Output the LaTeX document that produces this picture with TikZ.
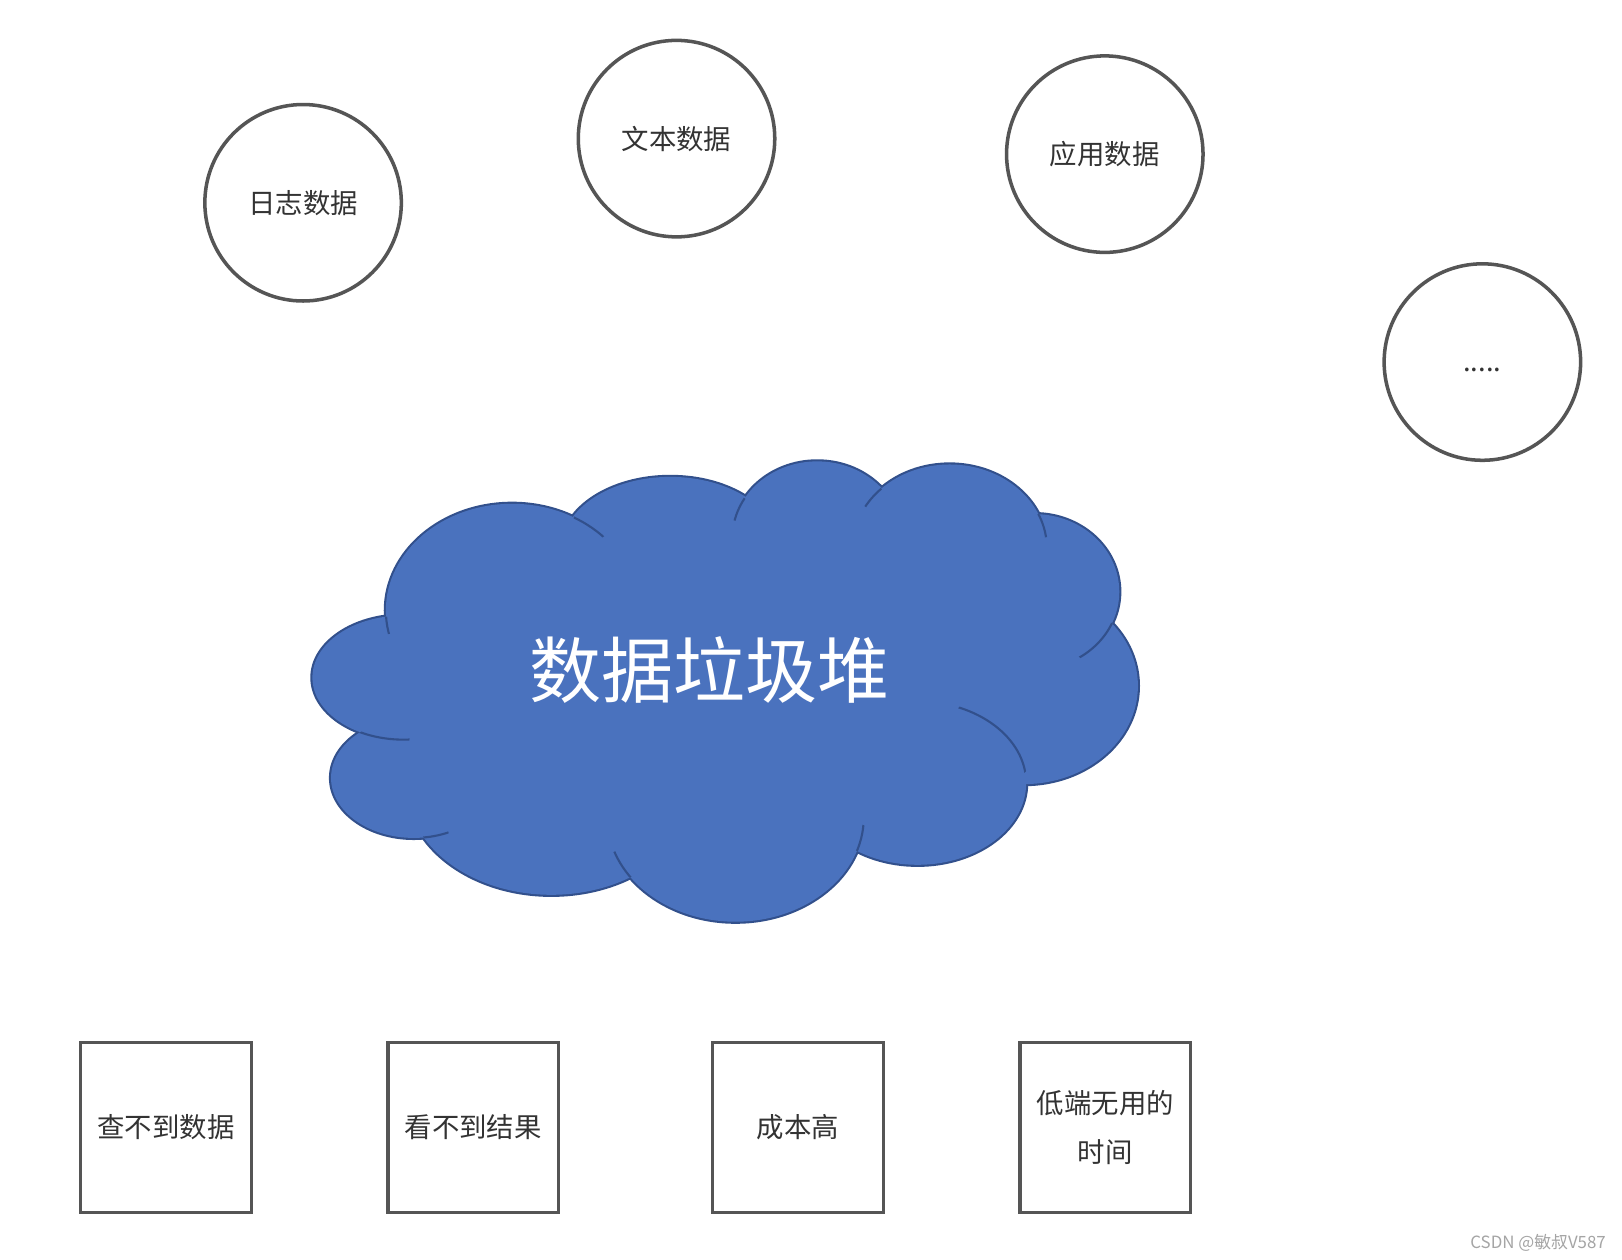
\documentclass[tikz,border=0pt]{standalone}
\usepackage{fontspec}
\newfontfamily\cjkfont{Noto Sans CJK SC}
\definecolor{cloudfill}{RGB}{74, 114, 190}
\definecolor{cloudline}{RGB}{50, 80, 140}
\definecolor{shapeline}{RGB}{85, 85, 85}
\definecolor{labelgray}{RGB}{51, 51, 51}
\definecolor{markgray}{RGB}{165, 165, 165}

\begin{document}
\begin{tikzpicture}[
	x=0.010344cm, y=-0.010344cm,
	font=\cjkfont,
	% Styles for the data sources, the cloud and the problem boxes
	source/.style={circle, draw=shapeline, line width=1pt, minimum size=1.965cm, inner sep=0pt, text=labelgray, font=\cjkfont\fontsize{7.8}{9.4}\selectfont},
	issue/.style={rectangle, draw=shapeline, line width=0.9pt, minimum size=1.707cm, inner sep=0pt, align=center, text=labelgray, font=\cjkfont\fontsize{7.8}{13.8}\selectfont},
	hook/.style={draw=cloudline, line width=0.6pt},
	heaptext/.style={text=white, font=\cjkfont\fontsize{20.5}{24}\selectfont}
	]
	
	\fill[white] (0,0) rectangle (1568,1218);
	\useasboundingbox (0,0) rectangle (1568,1218);
	
	% ==========================================
	% 1. DATA SOURCES
	% ==========================================
	\node[source] (logdata) at (293,196) {日志数据};
	\node[source] (textdata) at (654,134) {文本数据};
	\node[source] (appdata) at (1068,149) {应用数据};
	\node[source] (moredata) at (1433,350) {};
	\node[text=labelgray, font=\cjkfont\fontsize{7.8}{9.4}\selectfont, anchor=base, inner sep=0pt] (dots) at (1433,359) {.....};
	
	% ==========================================
	% 2. DATA HEAP (cloud of puffs)
	% ==========================================
	% Puffs: centre x / centre y / x radius / y radius
	\foreach \cx/\cy/\rx/\ry in {495/590/122/103, 648/530/105/69, 790/520/82/74, 918/530/94/81, 1000/572/82/75, 990/663/110/95, 887/757/105/79, 711/790/124/101, 533/760/140/105, 400/752/80/58, 390/655/88/60}
		\filldraw[fill=cloudfill, draw=cloudline, line width=1.2pt] (\cx,\cy) ellipse [x radius=\rx, y radius=\ry];
	% Second fill hides the inner half of every outline
	\foreach \cx/\cy/\rx/\ry in {495/590/122/103, 648/530/105/69, 790/520/82/74, 918/530/94/81, 1000/572/82/75, 990/663/110/95, 887/757/105/79, 711/790/124/101, 533/760/140/105, 400/752/80/58, 390/655/88/60}
		\fill[cloudfill] (\cx,\cy) ellipse [x radius=\rx, y radius=\ry];
	\fill[cloudfill] (700,660) ellipse [x radius=300, y radius=130];
	
	% Short inner arcs where one puff runs into the next
	\foreach \ax/\ay/\arx/\ary/\bx/\by/\brx/\bry/\px/\py/\pr in {
		495/590/122/103/390/655/88/60/375/603/10,
		495/590/122/103/648/530/105/69/572/505/18,
		790/520/82/74/648/530/105/69/714/492/12,
		918/530/94/81/790/520/82/74/843/480/12,
		918/530/94/81/1000/572/82/75/1008/508/12,
		1000/572/82/75/990/663/110/95/1060/618/24,
		887/757/105/79/990/663/110/95/962/712/45,
		711/790/124/101/887/757/105/79/831/810/13,
		711/790/124/101/533/760/140/105/600/838/16,
		400/752/80/58/533/760/140/105/420/808/14,
		390/655/88/60/400/752/80/58/368/712/28}
	{
		\begin{scope}
			\clip (\bx,\by) ellipse [x radius=\brx, y radius=\bry];
			\clip (\px,\py) circle [radius=\pr];
			\draw[hook] (\ax,\ay) ellipse [x radius=\arx, y radius=\ary];
		\end{scope}
	}
	
	\node[heaptext] (heap) at (686,648) {数据垃圾堆};
	
	% ==========================================
	% 3. PROBLEMS
	% ==========================================
	\node[issue] (nodata) at (160.5,1090) {查不到数据};
	\node[issue] (noresult) at (457.5,1090) {看不到结果};
	\node[issue] (highcost) at (771.5,1090) {成本高};
	\node[issue] (wastetime) at (1068.5,1090) {低端无用的\\时间};
	
	% Watermark
	\node[text=markgray, font=\cjkfont\fontsize{4.8}{5}\selectfont, anchor=east, inner sep=0pt] (mark) at (1553,1201) {CSDN @敏叔V587};
\end{tikzpicture}
\end{document}
